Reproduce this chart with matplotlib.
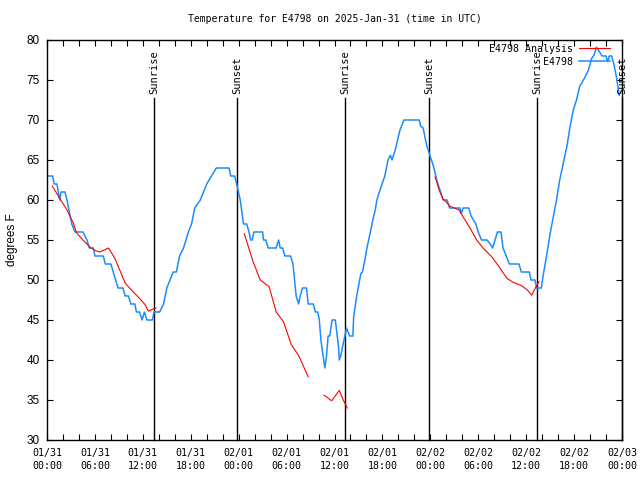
import numpy as np
import matplotlib
matplotlib.use("Agg")
import matplotlib.pyplot as plt
from matplotlib.ticker import MultipleLocator

# hours since 2025-01-31 00:00 UTC
obs_hours = [0.0, 0.7, 0.9, 1.25, 1.4, 1.6, 1.75, 2.25, 2.5, 3.1, 3.5, 4.5, 5.0, 5.3, 5.8, 6.0,
             7.05, 7.3, 8.0, 8.3, 8.6, 8.9, 9.5, 9.8, 10.2, 10.5, 11.0, 11.2, 11.6, 11.9, 12.2,
             12.5, 13.2, 13.4, 14.1, 14.6, 15.0, 15.4, 15.8, 16.2, 16.6, 17.1, 17.7, 18.1, 18.5,
             19.2, 19.6, 20.0, 20.6, 21.2, 22.8, 23.0, 23.5, 23.75, 24.2, 24.6, 25.0, 25.3, 25.5,
             25.7, 25.9, 27.0, 27.1, 27.4, 27.7, 28.7, 29.0, 29.2, 29.5, 29.8, 30.5, 30.8, 31.0,
             31.2, 31.5, 31.7, 32.0, 32.5, 32.7, 33.35, 33.6, 33.9, 34.1, 34.3, 34.5, 34.8, 35.0,
             35.2, 35.4, 35.7, 36.1, 36.3, 36.5, 36.6, 36.8, 37.1, 37.3, 37.5, 37.7, 37.9, 38.3,
             38.4, 38.7, 39.0, 39.3, 39.5, 39.8, 40.1, 40.45, 40.8, 41.1, 41.3, 41.7, 42.3, 42.7,
             43.0, 43.2, 43.6, 44.2, 44.7, 46.6, 46.8, 47.1, 47.5, 48.0, 48.4, 48.8, 49.2, 49.6,
             50.1, 50.4, 51.7, 51.9, 52.1, 52.8, 53.1, 53.4, 53.7, 54.0, 54.4, 55.1, 55.5, 55.8,
             56.1, 56.4, 56.85, 57.1, 57.5, 57.9, 59.1, 59.4, 60.4, 60.6, 61.1, 61.3, 61.9, 62.1,
             62.6, 63.0, 63.4, 63.8, 64.2, 64.65, 65.1, 65.5, 65.9, 66.3, 66.7, 67.4, 67.8, 68.2,
             68.5, 68.8, 69.2, 69.5, 70.0, 70.2, 70.4, 70.7, 70.98, 71.3, 71.65]
obs_temps = [63, 63, 62, 62, 61, 60, 61, 61, 60, 57, 56, 56, 55, 54, 54, 53,
             53, 52, 52, 51, 50, 49, 49, 48, 48, 47, 47, 46, 46, 45, 46,
             45, 45, 46, 46, 47, 49, 50, 51, 51, 53, 54, 56, 57, 59,
             60, 61, 62, 63, 64, 64, 63, 63, 62, 60, 57, 57, 56, 55,
             55, 56, 56, 55, 55, 54, 54, 55, 54, 54, 53, 53, 52, 50,
             48, 47, 48, 49, 49, 47, 47, 46, 46, 45, 42.5, 41, 39, 40.5,
             43, 43, 45, 45, 43.3, 41.7, 40, 40.6, 42.1, 43, 44, 43.5, 43, 43,
             45.4, 47.5, 49.2, 50.8, 51, 52.5, 54.2, 55.8, 57.5, 58.75, 60, 61.25, 63, 65,
             65.6, 65, 66.25, 68.75, 70, 70, 69.2, 69, 67, 65.4, 64.2, 62.5, 61.25, 60,
             60, 59, 59, 58.3, 59, 59, 58, 57.5, 57, 56, 55, 55, 54.5, 54,
             55, 56, 56, 54, 53, 52, 52, 51, 51, 50, 50, 49, 49, 50.4,
             53.3, 55.8, 57.9, 60, 62.5, 64.6, 66.7, 69.2, 71.25, 72.5, 74.2, 75.4, 76.25, 77.7,
             78.1, 79.1, 78.5, 78, 78, 77.3, 78, 78, 77, 75.4, 73.1]

# analysis series; NaN marks gaps
ana_hours = [0.66, 1.6, 2.5, 3.3, 3.7, 4.5, 5.4, 6.0, 6.6, 7.7, 8.5, 9.1, 9.8, 10.8, 11.6, 12.3,
             12.7, 13.1, 13.65, np.nan,
             24.7, 25.2, 25.8, 26.7, 27.5, 27.8, 28.7, 29.6, 30.6, 31.5, 32.7, np.nan,
             34.7, 35.65, 36.6, 37.1, 37.6, np.nan,
             48.6, 49.1, 49.55, 50.5, 51.6, 52.1, 52.97, 53.8, 54.6, 55.7, 56.7, 57.6, 58.4,
             59.4, 60.1, 60.7, 61.1, 61.6]
ana_temps = [61.75, 60.2, 58.75, 57.1, 55.9, 55, 54.1, 53.7, 53.5, 54, 52.7, 51.25, 49.6, 48.5,
             47.7, 46.9, 46.1, 46.3, 46.5, np.nan,
             55.8, 54.2, 52.3, 50, 49.4, 49.2, 46, 44.8, 41.9, 40.6, 37.9, np.nan,
             35.6, 34.9, 36.2, 35, 34, np.nan,
             62.9, 61.25, 60.2, 59.2, 58.75, 57.9, 56.5, 55, 54, 52.9, 51.5, 50.2, 49.7, 49.3,
             48.8, 48.1, 48.9, 49.8]

sun_hours = [13.4, 23.79, 37.3, 47.83, 61.36, 72.0]
sun_labels = ["Sunrise", "Sunset", "Sunrise", "Sunset", "Sunrise", "Sunset"]

tick_hours = list(range(0, 73, 6))
tick_labels = ["01/31\n00:00", "01/31\n06:00", "01/31\n12:00", "01/31\n18:00",
               "02/01\n00:00", "02/01\n06:00", "02/01\n12:00", "02/01\n18:00",
               "02/02\n00:00", "02/02\n06:00", "02/02\n12:00", "02/02\n18:00",
               "02/03\n00:00"]

mono = "DejaVu Sans Mono"
sans = "Liberation Sans"

fig = plt.figure(figsize=(6.4, 4.8), dpi=100)
ax = fig.add_axes([47/640, 40/480, 575/640, 400/480])

ax.plot(obs_hours, obs_temps, color="#1a8cff", lw=1.1, label="E4798", zorder=2)
ax.plot(ana_hours, ana_temps, color="#ff0000", lw=0.8, label="E4798 Analysis", zorder=3)

for h, lab in zip(sun_hours, sun_labels):
    ax.plot([h, h], [30, 72.7], color="black", lw=1.0, zorder=1, clip_on=False)
    ax.text(h, 73.3, lab, rotation=90, ha="center", va="bottom", fontsize=7.5,
            family=mono, zorder=4)

ax.set_xlim(0, 72)
ax.set_ylim(30, 80)
ax.set_xticks(tick_hours)
ax.set_xticklabels(tick_labels, family=mono, fontsize=7.2, linespacing=1.3)
ax.xaxis.set_minor_locator(MultipleLocator(2))
ax.yaxis.set_major_locator(MultipleLocator(5))
for lbl in ax.get_yticklabels():
    lbl.set_family(sans)
    lbl.set_fontsize(8.5)
ax.tick_params(which="both", direction="in", top=True, right=True, length=4, width=0.8)
ax.tick_params(axis="x", pad=6)
ax.tick_params(axis="y", pad=5)
for s in ax.spines.values():
    s.set_linewidth(1.0)

ax.set_ylabel("degrees F", family=sans, fontsize=8.5, labelpad=6)
ax.set_title("Temperature for E4798 on 2025-Jan-31 (time in UTC)", family=mono,
             fontsize=7, pad=13)

handles, labels = ax.get_legend_handles_labels()
order = [1, 0]
leg = ax.legend([handles[i] for i in order], [labels[i] for i in order],
                loc="upper right", bbox_to_anchor=(0.979, 0.99), frameon=False,
                markerfirst=False, handlelength=3.1, handletextpad=0.6,
                labelspacing=0.3, borderaxespad=0, borderpad=0,
                prop={"family": mono, "size": 7.2})
leg.set_zorder(5)

fig.savefig("out.png", dpi=100)
